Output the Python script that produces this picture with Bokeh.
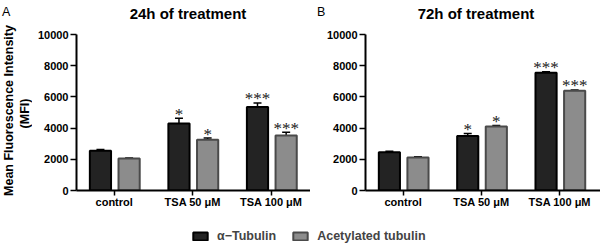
import numpy as np
from bokeh.plotting import figure
from bokeh.layouts import row, column
from bokeh.models import (ColumnDataSource, FixedTicker, Label, Whisker, TeeHead,
                          Legend, LegendItem)
from bokeh.embed import file_html
from bokeh.resources import INLINE

# ---------------- data ----------------
categories = ["control", "TSA 50 μM", "TSA 100 μM"]
y_ticks = [0, 2000, 4000, 6000, 8000, 10000]

alpha_24 = [2550, 4300, 5350]
alpha_24_err = [80, 330, 260]
acet_24 = [2050, 3250, 3520]
acet_24_err = [30, 110, 210]
alpha_24_sig = ["", "*", "***"]
acet_24_sig = ["", "*", "***"]

alpha_72 = [2450, 3500, 7550]
alpha_72_err = [60, 160, 60]
acet_72 = [2110, 4100, 6400]
acet_72_err = [60, 70, 50]
alpha_72_sig = ["", "*", "***"]
acet_72_sig = ["", "*", "***"]

series_names = ["α−Tubulin", "Acetylated tubulin"]
panel_titles = ["24h of treatment", "72h of treatment"]
panel_letters = ["A", "B"]
y_label_lines = ["Mean Fluorescence Intensity", "(MFI)"]

FONT = "Liberation Sans"
DARK = "#232323"
GREY = "#8c8c8c"
GREY_LINE = "#4a4a4a"
YMAX = 10000

TOP_H = 24       # strip with titles
MID_H = 199      # panels
LEG_H = 20       # legend strip
YLAB_W = 32
TOTAL_H = TOP_H + MID_H + LEG_H


def strip(width, height):
    """A blank figure whose data units are pixels from its top-left corner."""
    s = figure(width=width, height=height, output_backend="svg", toolbar_location=None,
               x_axis_type=None, y_axis_type=None, x_range=(0, width),
               y_range=(height, 0), min_border=0)
    s.outline_line_color = None
    s.grid.visible = False
    return s


def panel(width, border_left, x_end, alpha, alpha_err, acet, acet_err, sig_a, sig_b):
    p = figure(width=width, height=MID_H, output_backend="svg", toolbar_location=None,
               x_range=(-0.48, x_end), y_range=(0, YMAX),
               min_border_left=border_left, min_border_right=0,
               min_border_top=10, min_border_bottom=33)
    p.outline_line_color = None
    p.grid.visible = False

    idx = np.arange(len(categories))
    xa = idx - 0.175
    xb = idx + 0.19
    src_a = ColumnDataSource(dict(x=xa, top=alpha, up=np.array(alpha) + np.array(alpha_err),
                                  sig=sig_a))
    src_b = ColumnDataSource(dict(x=xb, top=acet, up=np.array(acet) + np.array(acet_err),
                                  sig=sig_b))

    for src in (src_a, src_b):
        w = Whisker(source=src, base="x", lower="top", upper="up", dimension="height",
                    line_color="black", line_width=1.5,
                    upper_head=TeeHead(size=8, line_color="black", line_width=1.5),
                    lower_head=None, level="underlay")
        p.add_layout(w)

    p.vbar(x="x", top="top", width=0.27, source=src_a, fill_color=DARK,
           line_color="black", line_width=2)
    p.vbar(x="x", top="top", width=0.27, source=src_b, fill_color=GREY,
           line_color=GREY_LINE, line_width=2)

    for src in (src_a, src_b):
        p.text(x="x", y="up", text="sig", source=src, text_align="center",
               text_baseline="alphabetic", y_offset=-4, text_font_size="17px",
               text_font=FONT, text_color="#202020")

    p.yaxis.ticker = FixedTicker(ticks=y_ticks)
    p.xaxis.ticker = FixedTicker(ticks=list(range(len(categories))))
    p.xaxis.major_label_overrides = {i: c for i, c in enumerate(categories)}
    for ax in (p.xaxis, p.yaxis):
        ax.axis_line_width = 2
        ax.axis_line_color = "black"
        ax.major_tick_line_width = 1.5
        ax.major_tick_in = 0
        ax.minor_tick_line_color = None
        ax.major_label_text_font = FONT
        ax.major_label_text_font_style = "bold"
        ax.major_label_text_font_size = "11px"
        ax.major_label_text_color = "black"
    p.yaxis.major_tick_out = 6
    p.yaxis.major_label_standoff = 2
    p.xaxis.major_tick_out = 5
    p.xaxis.major_label_standoff = 0
    return p


# left strip: panel letter A and y-axis label (full height)
ylab = strip(YLAB_W, TOTAL_H)
ylab.add_layout(Label(x=1.5, y=11.7, text=panel_letters[0], text_font=FONT,
                      text_font_size="12.5px", text_align="left",
                      text_baseline="alphabetic", text_color="black"))
for t, cx, cy in zip(y_label_lines, [8.5, 24], [110, 113]):
    ylab.add_layout(Label(x=cx, y=cy, text=t, angle=90, angle_units="deg",
                          text_font=FONT, text_font_style="bold", text_font_size="12.5px",
                          text_align="center", text_baseline="middle",
                          text_color="black"))

# title strip (starts at x = YLAB_W)
RIGHT_W = 600 - YLAB_W
top = strip(RIGHT_W, TOP_H)
for t, cx in zip(panel_titles, [187.5, 475.5]):
    top.add_layout(Label(x=cx - YLAB_W, y=13, text=t, text_font=FONT,
                         text_font_style="bold", text_font_size="15px",
                         text_align="center", text_baseline="alphabetic",
                         text_color="black"))
top.add_layout(Label(x=316.5 - YLAB_W, y=11.7, text=panel_letters[1], text_font=FONT,
                     text_font_size="12.5px", text_align="left",
                     text_baseline="alphabetic", text_color="black"))

p1 = panel(310 - YLAB_W, 76 - YLAB_W, 2.5, alpha_24, alpha_24_err, acet_24, acet_24_err,
           alpha_24_sig, acet_24_sig)
p2 = panel(290, 55, 2.52, alpha_72, alpha_72_err, acet_72, acet_72_err,
           alpha_72_sig, acet_72_sig)

# legend strip (its two renderers are hidden; only their legend swatches show)
pl = figure(width=RIGHT_W, height=LEG_H, output_backend="svg", toolbar_location=None,
            x_axis_type=None, y_axis_type=None, x_range=(0, 1), y_range=(0, 1),
            min_border=0)
pl.outline_line_color = None
pl.grid.visible = False
hidden = dict(x=[0.5], top=[0.5])
r1 = pl.vbar(x="x", top="top", width=0.01, source=ColumnDataSource(hidden),
             fill_color=DARK, line_color="black", line_width=2, visible=False)
r2 = pl.vbar(x="x", top="top", width=0.01, source=ColumnDataSource(hidden),
             fill_color=GREY, line_color=GREY_LINE, line_width=2, visible=False)
leg = Legend(items=[LegendItem(label=series_names[0], renderers=[r1], index=0),
                    LegendItem(label=series_names[1], renderers=[r2], index=0)],
             orientation="horizontal", location=(191 - YLAB_W, 0),
             glyph_width=18, glyph_height=10, label_standoff=8, spacing=15,
             padding=0, margin=0, border_line_color=None, background_fill_alpha=0,
             inactive_fill_alpha=0,
             label_text_font=FONT, label_text_font_style="bold",
             label_text_font_size="12.5px", label_height=10, label_width=10)
pl.add_layout(leg)

layout = row(ylab, column(top, row(p1, p2, spacing=0), pl, spacing=0), spacing=0,
             styles={"position": "absolute", "left": "0px", "top": "0px"})

open("out.html", "w").write(file_html(layout, INLINE))
